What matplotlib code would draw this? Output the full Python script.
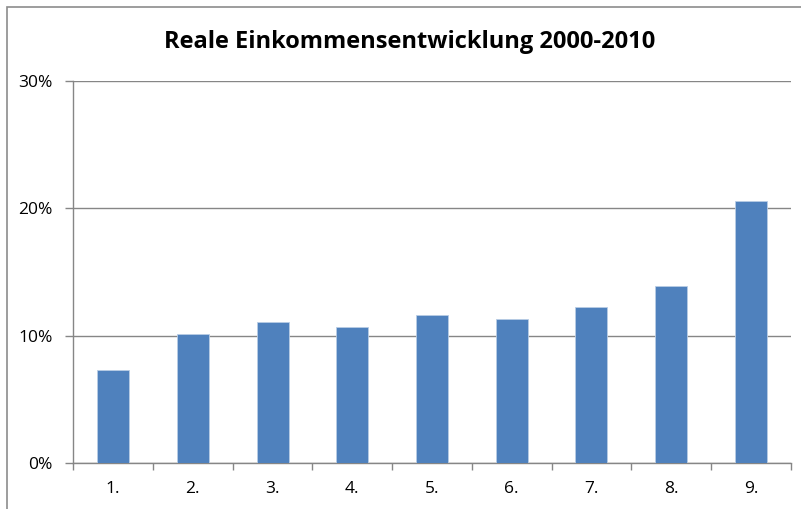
import matplotlib.pyplot as plt
from matplotlib.patches import Rectangle
from matplotlib.ticker import FixedLocator, PercentFormatter

labels = ["1.", "2.", "3.", "4.", "5.", "6.", "7.", "8.", "9."]
values = [7.35, 10.15, 11.1, 10.7, 11.65, 11.3, 12.3, 13.9, 20.6]
yticks = [0, 10, 20, 30]

plt.rcParams["font.family"] = ["Open Sans", "DejaVu Sans"]
grey = "#868686"

fig = plt.figure(figsize=(8.01, 5.09), dpi=100)
ax = fig.add_axes([73.3 / 801, 1 - 463.3 / 509, (790.7 - 73.3) / 801, (463.3 - 81) / 509])

# outer chart frame, runs off the right and bottom edges
fig.patches.append(Rectangle((7 / 801, -0.1), 1.1, 1 - 7 / 509 + 0.1, transform=fig.transFigure,
                             fill=False, edgecolor="#8c8c8c", linewidth=1.2))

x = list(range(len(labels)))
ax.bar(x, values, width=0.4, color="#4F81BD", edgecolor="#b9cde5", linewidth=0.6, zorder=3)

ax.set_xlim(-0.5, len(labels) - 0.5)
ax.set_ylim(0, 30)
ax.set_yticks(yticks)
ax.yaxis.set_major_formatter(PercentFormatter(decimals=0))
ax.set_xticks(x)
ax.set_xticklabels(labels)
ax.xaxis.set_minor_locator(FixedLocator([i - 0.5 for i in range(len(labels) + 1)]))
ax.tick_params(axis="x", which="major", length=0, pad=13, labelsize=12.5)
ax.tick_params(axis="x", which="minor", length=5, color=grey, width=1)
ax.tick_params(axis="y", length=6, color=grey, width=1, labelsize=12.5, pad=9)

ax.grid(axis="y", color=grey, linewidth=1, zorder=0)
for side in ["top", "right"]:
    ax.spines[side].set_visible(False)
for side in ["left", "bottom"]:
    ax.spines[side].set_color(grey)
    ax.spines[side].set_linewidth(1)

fig.text(0.512, 1 - 42 / 509, "Reale Einkommensentwicklung 2000-2010", ha="center", va="center",
         fontsize=17, fontweight="bold")

fig.savefig("out.png", dpi=100)
